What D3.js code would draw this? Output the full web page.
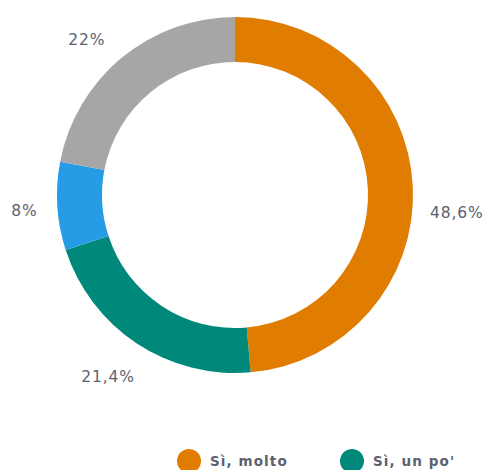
<!DOCTYPE html>
<html><head><meta charset="utf-8">
<script src="https://cdn.jsdelivr.net/npm/d3@7"></script>
<style>html,body{margin:0;padding:0;background:#fff;overflow:hidden}</style>
</head><body><svg id="c" width="487" height="470"></svg>
<script>
const categories = ["Sì, molto", "Sì, un po'", "No", "Non so"];
const values = [48.6, 21.4, 8, 22];
const valueLabels = ["48,6%", "21,4%", "8%", "22%"];
const colors = ["#E07C00", "#00897A", "#279CE6", "#A6A6A6"];

const svg = d3.select("#c");
const cx = 235, cy = 195, R = 178, r = 133;
const g = svg.append("g").attr("transform", `translate(${cx},${cy})`);
const pie = d3.pie().sort(null).value(d => d)(values);
const arc = d3.arc().innerRadius(r).outerRadius(R);
g.selectAll("path").data(pie).join("path")
  .attr("d", arc).attr("fill", (d, i) => colors[i]);

// label placement tweaks (layout only)
const nudge = [[10, 27], [-10, 5], [1, 3], [-13, 8]];
const labelArc = d3.arc().innerRadius(212).outerRadius(212);
g.selectAll("text.lbl").data(pie).join("text").attr("class", "lbl")
  .attr("x", (d, i) => labelArc.centroid(d)[0] + nudge[i][0])
  .attr("y", (d, i) => labelArc.centroid(d)[1] + nudge[i][1])
  .attr("text-anchor", "middle").attr("dominant-baseline", "central")
  .attr("font-family", "DejaVu Sans").attr("font-size", 15.5)
  .attr("letter-spacing", "0.9px").attr("fill", "#5b6170")
  .text((d, i) => valueLabels[i]);

// legend: only the first row fits inside the 470px-high frame
const legX = [189, 352], legY = 461;
const leg = svg.selectAll("g.leg").data(categories.slice(0, 2)).join("g").attr("class", "leg")
  .attr("transform", (d, i) => `translate(${legX[i]},${legY})`);
leg.append("circle").attr("r", 12).attr("fill", (d, i) => colors[i]);
leg.append("text").attr("x", 21).attr("y", 0).attr("dominant-baseline", "central")
  .attr("font-family", "DejaVu Sans").attr("font-weight", "bold").attr("font-size", 13.5)
  .attr("letter-spacing", "1.1px").attr("fill", "#5b6170").text(d => d);
</script></body></html>
